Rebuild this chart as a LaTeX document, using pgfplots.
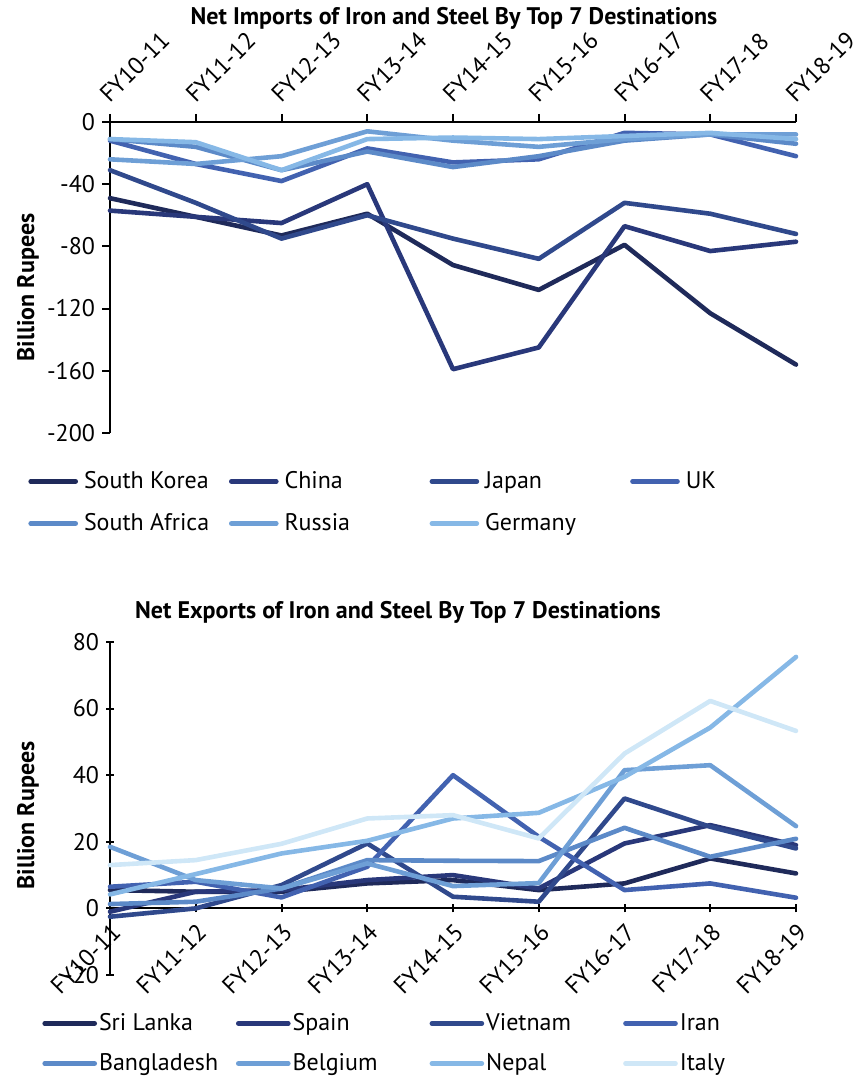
\documentclass[border=0pt]{standalone}
\usepackage{pgfplots}
\pgfplotsset{compat=1.18}
\usepackage{fontspec}
\setmainfont{PT Sans}
\definecolor{c1}{HTML}{1F2A5A}
\definecolor{c2}{HTML}{29387A}
\definecolor{c3}{HTML}{30498C}
\definecolor{c4}{HTML}{4262B0}
\definecolor{c5}{HTML}{5C8AC8}
\definecolor{c6}{HTML}{6E9FD6}
\definecolor{c7}{HTML}{86B8E6}
\definecolor{c8}{HTML}{CFE7F7}
\begin{document}
\begin{tikzpicture}
\path[use as bounding box] (0,0) rectangle (428pt,540pt);
\pgfplotsset{
  common/.style={
    scale only axis, width=343pt, xmin=0, xmax=8, xtick={0,...,8},
    xticklabels={FY10-11,FY11-12,FY12-13,FY13-14,FY14-15,FY15-16,FY16-17,FY17-18,FY18-19},
    tick style={line width=1pt, black},
    major tick length=4pt,
    tick align=outside,
    ticklabel style={font=\fontsize{12}{14}\selectfont},
    /pgf/number format/assume math mode=true,
    every axis plot/.append style={line width=2.3pt, line cap=round, line join=round},
    clip=false,
    legend columns=4,
  }
}
\node[font=\bfseries\fontsize{12}{14}\selectfont] at (227pt,531pt) {Net Imports of Iron and Steel By Top 7 Destinations};
\node[font=\bfseries\fontsize{12}{14}\selectfont] at (199pt,234pt) {Net Exports of Iron and Steel By Top 7 Destinations};

\begin{axis}[common, at={(55pt,323.5pt)}, anchor=south west, height=155.5pt,
  ymin=-200, ymax=0, ytick={-200,-160,-120,-80,-40,0},
  axis x line*=top, axis y line*=left,
  axis line style={-, line width=1pt, black},
  xticklabel style={rotate=45, anchor=south west},
  ylabel={Billion Rupees},
  every axis y label/.style={at={(axis description cs:0,0.5)}, xshift=-41pt, yshift=-5pt, rotate=90, anchor=center, font=\bfseries\fontsize{12}{14}\selectfont},
  legend image code/.code={\draw[#1, line width=2.3pt, line cap=round] (0pt,0pt) -- (22.5pt,0pt);},
  legend style={at={(axis description cs:0,0)}, anchor=north west, xshift=-41pt, yshift=-18pt, draw=none, fill=none, inner sep=0pt, row sep=9pt, font=\fontsize{12}{14}\selectfont, nodes={inner sep=1pt}},
]
\addplot[c1] coordinates {(0,-49) (1,-61) (2,-73) (3,-59) (4,-92) (5,-108) (6,-79) (7,-123) (8,-156)};
\addlegendentry{\makebox[73.5pt][l]{\hspace{2pt}South Korea}}
\addplot[c2] coordinates {(0,-57) (1,-61) (2,-65) (3,-40) (4,-159) (5,-145) (6,-67) (7,-83) (8,-77)};
\addlegendentry{\makebox[73.5pt][l]{\hspace{2pt}China}}
\addplot[c3] coordinates {(0,-31) (1,-52) (2,-75) (3,-60) (4,-75) (5,-88) (6,-52) (7,-59) (8,-72)};
\addlegendentry{\makebox[73.5pt][l]{\hspace{2pt}Japan}}
\addplot[c4] coordinates {(0,-12) (1,-27) (2,-38) (3,-17) (4,-26) (5,-24) (6,-7) (7,-8) (8,-22)};
\addlegendentry{\makebox[73.5pt][l]{\hspace{2pt}UK}}
\addplot[c5] coordinates {(0,-11) (1,-16) (2,-31) (3,-19) (4,-29) (5,-22) (6,-12) (7,-8) (8,-14)};
\addlegendentry{\makebox[73.5pt][l]{\hspace{2pt}South Africa}}
\addplot[c6] coordinates {(0,-24) (1,-27) (2,-22) (3,-6) (4,-12) (5,-16) (6,-11) (7,-8) (8,-8)};
\addlegendentry{\makebox[73.5pt][l]{\hspace{2pt}Russia}}
\addplot[c7] coordinates {(0,-11) (1,-13) (2,-31) (3,-11) (4,-10) (5,-11) (6,-9) (7,-7) (8,-11)};
\addlegendentry{\makebox[73.5pt][l]{\hspace{2pt}Germany}}
\end{axis}

\begin{axis}[common, at={(55pt,52.5pt)}, anchor=south west, height=166.5pt,
  ymin=-20, ymax=80, ytick={-20,0,20,40,60,80},
  axis x line=middle, axis y line=left,
  axis line style={-, line width=1pt, black},
  hide obscured x ticks=false,
  xticklabel style={rotate=45, anchor=north east},
  ylabel={Billion Rupees},
  every axis y label/.style={at={(axis description cs:0,0.5)}, xshift=-41pt, yshift=-3.5pt, rotate=90, anchor=center, font=\bfseries\fontsize{12}{14}\selectfont},
  legend image code/.code={\draw[#1, line width=2.3pt, line cap=round] (0pt,0pt) -- (25pt,0pt);},
  legend style={at={(axis description cs:0,0)}, anchor=north west, xshift=-34pt, yshift=-18pt, draw=none, fill=none, inner sep=0pt, row sep=8pt, font=\fontsize{12}{14}\selectfont, nodes={inner sep=1pt}},
]
\addplot[c1] coordinates {(0,5.5) (1,5) (2,5) (3,7.5) (4,8.5) (5,5.5) (6,7.5) (7,15) (8,10.5)};
\addlegendentry{\makebox[67.5pt][l]{Sri Lanka}}
\addplot[c2] coordinates {(0,-1) (1,5) (2,5.5) (3,8.5) (4,10) (5,6) (6,19.5) (7,25) (8,19)};
\addlegendentry{\makebox[67.5pt][l]{Spain}}
\addplot[c3] coordinates {(0,-2.5) (1,0) (2,7) (3,19.5) (4,3.5) (5,2) (6,33) (7,24.5) (8,18)};
\addlegendentry{\makebox[67.5pt][l]{Vietnam}}
\addplot[c4] coordinates {(0,6.5) (1,8) (2,3.3) (3,12.5) (4,40) (5,21.5) (6,5.5) (7,7.5) (8,3.2)};
\addlegendentry{\makebox[67.5pt][l]{Iran}}
\addplot[c5] coordinates {(0,1.3) (1,2) (2,6) (3,14.5) (4,14.3) (5,14.2) (6,24.2) (7,15.5) (8,20.9)};
\addlegendentry{\makebox[67.5pt][l]{Bangladesh}}
\addplot[c6] coordinates {(0,18.5) (1,8.5) (2,6) (3,13.5) (4,6.7) (5,7.6) (6,41.5) (7,43) (8,24.7)};
\addlegendentry{\makebox[67.5pt][l]{Belgium}}
\addplot[c7] coordinates {(0,4.2) (1,10.3) (2,16.5) (3,20.3) (4,27) (5,28.7) (6,39.5) (7,54.3) (8,75.5)};
\addlegendentry{\makebox[67.5pt][l]{Nepal}}
\addplot[c8] coordinates {(0,13) (1,14.5) (2,19.4) (3,27) (4,28) (5,21) (6,46.5) (7,62.3) (8,53.3)};
\addlegendentry{\makebox[67.5pt][l]{Italy}}
\end{axis}
\end{tikzpicture}
\end{document}
